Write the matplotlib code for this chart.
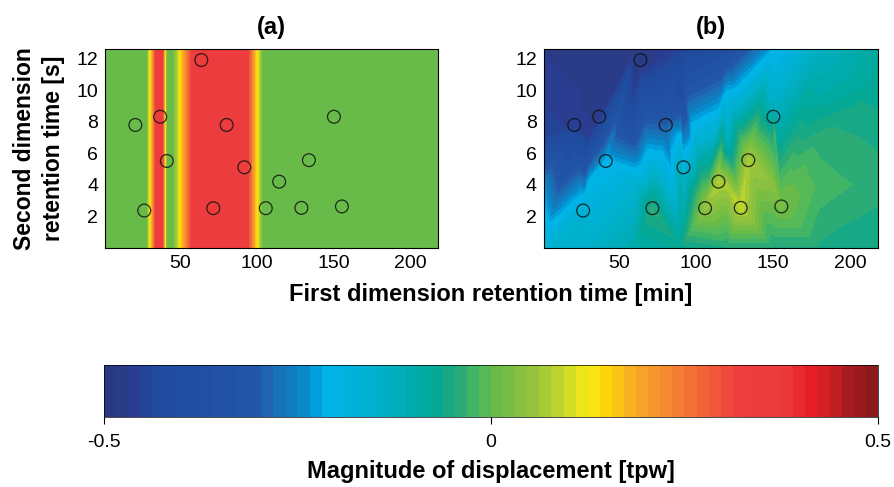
import matplotlib
matplotlib.use('Agg')
import matplotlib.pyplot as plt
import numpy as np
from matplotlib.colors import LinearSegmentedColormap, Normalize
from matplotlib.cm import ScalarMappable

plt.rcParams['font.family'] = ['Liberation Sans', 'DejaVu Sans']

# peak positions (first dim [min], second dim [s])
pk_x = [20.8, 37.0, 41.3, 26.6, 63.8, 80.3, 91.8, 71.6, 105.8, 114.5, 129.0, 133.9, 150.2, 155.4]
pk_y = [7.79, 8.31, 5.51, 2.37, 11.9, 7.79, 5.11, 2.52, 2.52, 4.20, 2.54, 5.56, 8.31, 2.63]

# (a) displacement profile along the first dimension
band_x = [0, 28, 34.5, 38.5, 41.5, 45, 58.5, 93.5, 104, 220]
band_v = [0.01, 0.01, 0.35, 0.35, 0.01, 0.01, 0.35, 0.35, 0.01, 0.01]

# (b) displacement at each peak
disp_b = [-0.46, -0.48, -0.21, -0.16, -0.49, -0.30, -0.17, -0.04, 0.05, 0.08, 0.09, 0.07, -0.04, 0.02]

# (b) displacement sampled on a coarse background grid
grid_x = [1, 30, 60, 90, 120, 150, 180, 218]
grid_y = [12.6, 10, 7, 4, 0]
grid_v = [
    [-0.47, -0.48, -0.48, -0.45, -0.38, -0.22, -0.13, -0.08],
    [-0.46, -0.48, -0.47, -0.42, -0.22, -0.17, -0.10, -0.07],
    [-0.44, -0.46, -0.33, -0.20, -0.14, -0.05, -0.04, -0.05],
    [-0.24, -0.20, -0.16, -0.10, 0.07, 0.04, -0.02, -0.04],
    [-0.16, -0.14, -0.10, -0.07, -0.05, -0.05, -0.05, -0.06],
]

cb_ticks = [-0.5, 0, 0.5]
cb_ticklabels = ['-0.5', '0', '0.5']

cmap_pts = [
    (0.00, '#283a80'), (0.03, '#2b3c8f'), (0.06, '#1f4a9e'), (0.19, '#2256a6'),
    (0.22, '#1a70b5'), (0.25, '#0a84c6'), (0.266, '#0098d8'), (0.285, '#00b4ea'),
    (0.36, '#00b0c8'), (0.425, '#00a898'), (0.455, '#23a87a'), (0.483, '#4cb860'),
    (0.512, '#6dbb45'), (0.563, '#9cc63a'), (0.602, '#d0dc25'), (0.628, '#f7ec13'),
    (0.654, '#fdd20a'), (0.692, '#f7a829'), (0.731, '#f58a30'), (0.770, '#f26a36'),
    (0.822, '#ee3e3e'), (0.886, '#ec3a3c'), (0.919, '#e61e25'), (0.944, '#cc1f25'),
    (0.968, '#a81c20'), (1.00, '#8c1a1a'),
]
cmap = LinearSegmentedColormap.from_list('disp', cmap_pts, N=64)
norm = Normalize(-0.5, 0.5)
levels = np.linspace(-0.5, 0.5, 65)

fig = plt.figure(figsize=(8.94, 4.87), dpi=100)
ax_a = fig.add_axes([0.1174, 0.4908, 0.3725, 0.4086])
ax_b = fig.add_axes([0.6082, 0.4908, 0.3736, 0.4086])

ylim = (0, 12.6)
za = np.vstack([band_v, band_v])
ax_a.contourf(band_x, list(ylim), za, levels=levels, cmap=cmap, norm=norm)

# linear surface over peaks + background grid
gx, gy = np.meshgrid(grid_x, grid_y)
tx = np.concatenate([pk_x, gx.ravel()])
ty = np.concatenate([pk_y, gy.ravel()])
tv = np.concatenate([disp_b, np.array(grid_v).ravel()])
ax_b.tricontourf(tx, ty, tv, levels=levels, cmap=cmap, norm=norm, extend='both')

for ax, ttl in [(ax_a, '(a)'), (ax_b, '(b)')]:
    ax.scatter(pk_x, pk_y, s=85, facecolors='none', edgecolors='#111111', linewidths=0.9,
               alpha=0.85, zorder=3)
    ax.set_xlim(1, 218)
    ax.set_ylim(*ylim)
    ax.set_xticks([50, 100, 150, 200])
    ax.set_yticks([2, 4, 6, 8, 10, 12])
    ax.tick_params(length=0, labelsize=14, pad=5)
    ax.set_title(ttl, fontsize=17, fontweight='bold', pad=11)
    for s in ax.spines.values():
        s.set_linewidth(0.8)

ax_a.set_ylabel('Second dimension\nretention time [s]', fontsize=16.5, fontweight='bold',
                labelpad=8, linespacing=1.35)
fig.text(0.549, 0.396, 'First dimension retention time [min]', ha='center', va='center',
         fontsize=17, fontweight='bold')

cax = fig.add_axes([0.1163, 0.1437, 0.8658, 0.1068])
cb = fig.colorbar(ScalarMappable(norm=norm, cmap=cmap), cax=cax, orientation='horizontal')
cb.set_ticks(cb_ticks)
cb.set_ticklabels(cb_ticklabels)
cb.outline.set_linewidth(0.5)
cax.tick_params(length=5, width=0.8, labelsize=14, pad=7)
cb.set_label('Magnitude of displacement [tpw]', fontsize=17, fontweight='bold', labelpad=7)

fig.savefig('out.png', dpi=100)
